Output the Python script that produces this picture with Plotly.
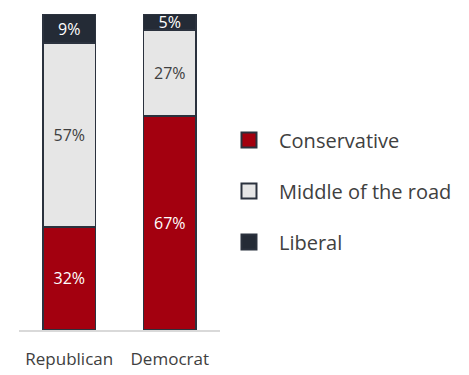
import plotly.graph_objects as go

categories = ["Republican", "Democrat"]
series_names = ["Conservative", "Middle of the road", "Liberal"]
conservative = [32, 67]
middle = [57, 27]
liberal = [9, 5]

values = [conservative, middle, liberal]
colors = ["#a3000f", "#e6e6e6", "#242b36"]
text_colors = ["#ffffff", "#404040", "#ffffff"]
edge = "#2b323e"
font_family = "'Open Sans', Lato, sans-serif"

fig = go.Figure()
for name, vals, col, tcol in zip(series_names, values, colors, text_colors):
    fig.add_trace(go.Bar(
        x=categories, y=vals, name=name,
        marker=dict(color=col, line=dict(color=edge, width=1.6)),
        text=[f"{v}%" for v in vals],
        textposition="inside", insidetextanchor="middle",
        textfont=dict(color=tcol, size=16, family=font_family),
        showlegend=False, hoverinfo="skip",
    ))
    fig.add_trace(go.Scatter(
        x=[None], y=[None], mode="markers", name=name, legendgroup=name,
        marker=dict(symbol="square", size=15, color=col, line=dict(color=edge, width=2)),
        showlegend=True,
    ))

# page body adds an 8px offset; compensate in size and margins
fig.update_layout(
    width=461, height=367,
    barmode="stack", barnorm="percent", bargap=0.48,
    margin=dict(l=11, r=249, t=6, b=45),
    plot_bgcolor="white", paper_bgcolor="white",
    font=dict(family=font_family, color="#404040"),
    uniformtext=dict(minsize=16, mode="show"),
    legend=dict(
        x=0.995, xanchor="left", y=0.44, yanchor="middle",
        traceorder="grouped", tracegroupgap=22, itemwidth=50,
        font=dict(size=20, color="#404040", family=font_family),
        bgcolor="rgba(0,0,0,0)", itemsizing="trace",
    ),
    xaxis=dict(
        showgrid=False, showline=True, linecolor="#d9d9d9", linewidth=2,
        ticks="", tickfont=dict(size=17, color="#404040", family=font_family),
        ticklabelstandoff=13,
        fixedrange=True, zeroline=False,
    ),
    yaxis=dict(range=[0, 100], visible=False, fixedrange=True),
)

fig.write_html("out.html")
